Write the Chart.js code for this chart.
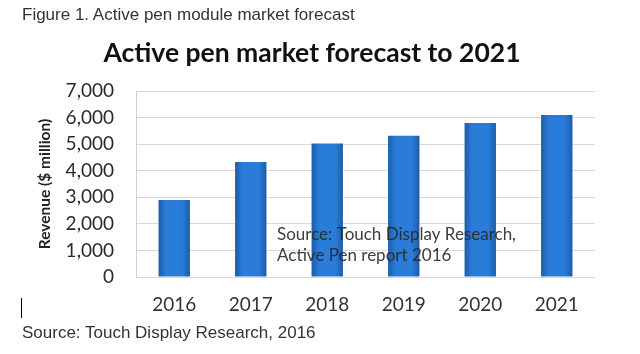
<!DOCTYPE html>
<html>
<head>
<meta charset="utf-8">
<script src="https://cdn.jsdelivr.net/npm/chart.js@4"></script>
<style>
  body { margin: 0; background: #fff; }
  #wrap { position: relative; width: 640px; height: 354px; overflow: hidden; }
  #chart { position: absolute; left: 0; top: 0; }
  .cap { position: absolute; left: 22px; font-family: "Liberation Sans", Arial, sans-serif; font-size: 17px; color: #333; white-space: nowrap; }
  #title { position: absolute; left: 12px; width: 600px; top: 36px; text-align: center; font-family: Lato, sans-serif; font-weight: bold; font-size: 26.5px; color: #111; line-height: 32px; }
  #cursor { position: absolute; left: 21px; top: 298px; width: 1px; height: 20px; background: #000; }
</style>
</head>
<body>
<div id="wrap">
  <canvas id="chart" width="640" height="354"></canvas>
  <div class="cap" style="top:5px">Figure 1. Active pen module market forecast</div>
  <div id="title">Active pen market forecast to 2021</div>
  <div id="cursor"></div>
  <div class="cap" style="top:323px">Source: Touch Display Research, 2016</div>
</div>
<script>
const years = ['2016', '2017', '2018', '2019', '2020', '2021']
const revenue = [2900, 4330, 5020, 5320, 5800, 6100]
const noteLines = ['Source: Touch Display Research,', 'Active Pen report 2016']

const font = 'Lato, "Open Sans", sans-serif'

// blue bars with dark edges, like the office chart
function barFill(ctx) {
  let chart = ctx.chart
  if (!chart.chartArea) return '#2a7bd6'
  let x = chart.scales.x.getPixelForValue(ctx.dataIndex)
  let g = chart.ctx.createLinearGradient(x - 16, 0, x + 16, 0)
  g.addColorStop(0, '#1b5aa6')
  g.addColorStop(0.25, '#2a7cd9')
  g.addColorStop(0.75, '#2a7cd9')
  g.addColorStop(1, '#1b5aa6')
  return g
}

const notePlugin = {
  id: 'note',
  afterDatasetsDraw(chart) {
    let c = chart.ctx
    c.save()
    c.font = '17px ' + font
    c.fillStyle = 'rgba(40,40,40,0.9)'
    c.textBaseline = 'middle'
    c.fillText(noteLines[0], 277, 235)
    c.fillText(noteLines[1], 277, 256)
    c.restore()
  }
}

new Chart(document.getElementById('chart'), {
  type: 'bar',
  data: {
    labels: years,
    datasets: [{
      label: 'Revenue',
      data: revenue,
      backgroundColor: barFill,
      borderWidth: 0,
      categoryPercentage: 1,
      barPercentage: 0.41
    }]
  },
  options: {
    responsive: false,
    animation: false,
    layout: { padding: { top: 91, right: 45, left: 0, bottom: 0 } },
    plugins: {
      legend: { display: false },
      tooltip: { enabled: false }
    },
    scales: {
      x: {
        grid: { display: false, drawTicks: false },
        border: { display: false },
        ticks: { font: { family: font, size: 19 }, color: '#333', padding: 16 },
        afterFit(scale) { scale.height = 77 }
      },
      y: {
        min: 0,
        max: 7000,
        grid: { color: '#d9d9d9', drawTicks: false },
        border: { color: '#cfcfcf' },
        ticks: {
          stepSize: 1000,
          autoSkip: false,
          font: { family: font, size: 19 },
          color: '#2b2b2b',
          padding: 22,
          callback: v => v.toLocaleString('en-US')
        },
        title: {
          display: true,
          text: 'Revenue ($ million)',
          font: { family: font, size: 15.5, weight: 'bold' },
          color: '#222',
          padding: { top: 36, bottom: 0 }
        },
        afterFit(scale) { scale.width = 136 }
      }
    }
  },
  plugins: [notePlugin]
})
</script>
</body>
</html>
